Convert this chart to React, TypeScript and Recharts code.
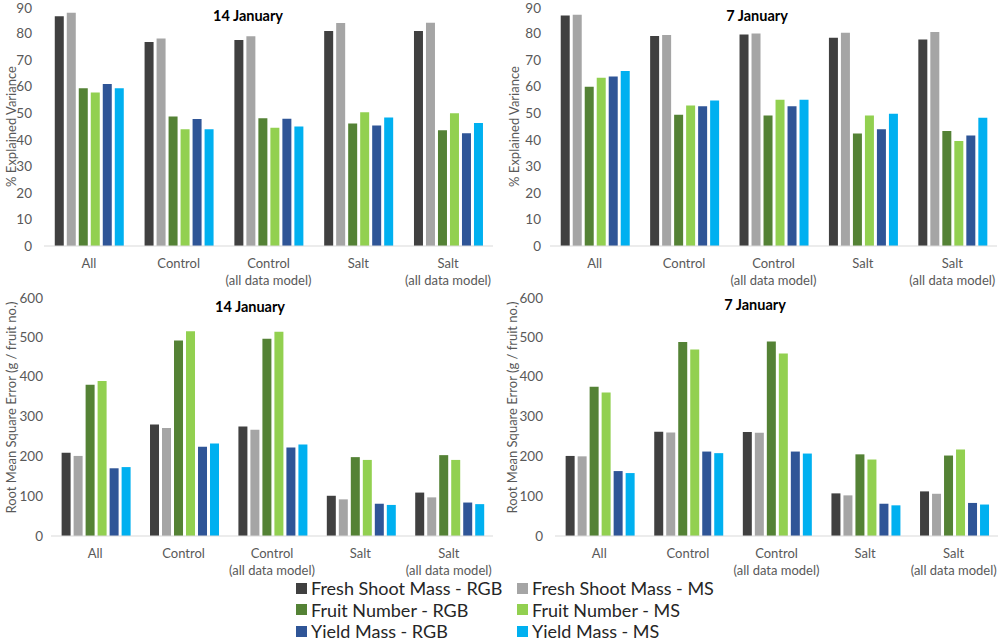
import React from "react";
import { BarChart, Bar, XAxis, YAxis } from "recharts";

const categories = ["All", "Control", "Control\n(all data model)", "Salt", "Salt\n(all data model)"];

const seriesNames = [
  "Fresh Shoot Mass - RGB",
  "Fresh Shoot Mass - MS",
  "Fruit Number - RGB",
  "Fruit Number - MS",
  "Yield Mass - RGB",
  "Yield Mass - MS",
];
const seriesColors = ["#404040", "#a5a5a5", "#548235", "#92d050", "#2f5597", "#00b0f0"];

// rows follow seriesNames, columns follow categories
const variance14Jan = [
  [86.5, 76.8, 77.6, 81.0, 81.0],
  [87.8, 78.1, 79.0, 84.0, 84.1],
  [59.4, 48.8, 48.1, 46.1, 43.6],
  [57.8, 44.0, 44.5, 50.4, 50.0],
  [61.0, 47.8, 47.9, 45.4, 42.5],
  [59.4, 44.0, 45.0, 48.4, 46.3],
];
const variance7Jan = [
  [86.8, 79.1, 79.6, 78.4, 77.8],
  [87.1, 79.5, 80.0, 80.3, 80.6],
  [60.0, 49.4, 49.1, 42.4, 43.3],
  [63.4, 52.9, 55.1, 49.1, 39.5],
  [63.8, 52.6, 52.6, 44.0, 41.6],
  [65.9, 54.8, 55.1, 49.8, 48.3],
];
const rmse14Jan = [
  [209, 280, 275, 101, 109],
  [201, 271, 267, 92, 97],
  [380, 491, 495, 198, 203],
  [389, 514, 513, 191, 191],
  [170, 224, 222, 81, 84],
  [173, 232, 230, 78, 80],
];
const rmse7Jan = [
  [201, 262, 261, 107, 112],
  [200, 260, 259, 102, 106],
  [375, 487, 488, 205, 202],
  [360, 468, 458, 192, 217],
  [163, 212, 212, 81, 83],
  [158, 208, 207, 77, 79],
];

const varianceTicks = [0, 10, 20, 30, 40, 50, 60, 70, 80, 90];
const rmseTicks = [0, 100, 200, 300, 400, 500, 600];

const FONT = "Lato, 'Open Sans', sans-serif";

function toRows(values: number[][]) {
  return categories.map((name, i) => {
    const row: Record<string, string | number> = { name };
    values.forEach((s, k) => (row["s" + k] = s[i]));
    return row;
  });
}

function CategoryTick(props: any) {
  const { x, y, payload } = props;
  const lines = String(payload.value).split("\n");
  return (
    <text x={x} y={y} textAnchor="middle" fill="#595959" fontSize={13} fontFamily={FONT}>
      {lines.map((l, i) => (
        <tspan key={i} x={x} dy={i === 0 ? 13.5 : 17}>
          {l}
        </tspan>
      ))}
    </text>
  );
}

type PanelProps = {
  left: number;
  top: number;
  title: string;
  titleX: number;
  titleY: number;
  values: number[][];
  ticks: number[];
  yLabel: string;
  yLabelX: number;
  yLabelShift: number;
  yWidth: number;
  tickMargin: number;
  marginRight: number;
};

function Panel(p: PanelProps) {
  const data = toRows(p.values);
  const max = p.ticks[p.ticks.length - 1];
  return (
    <div style={{ position: "absolute", left: p.left, top: p.top, width: 500, height: 290 }}>
      <BarChart
        width={500}
        height={290}
        data={data}
        margin={{ top: 7, right: p.marginRight, bottom: 0, left: 0 }}
        barCategoryGap="12%"
        barGap={3}
      >
        <XAxis
          dataKey="name"
          interval={0}
          height={44}
          tickLine={false}
          axisLine={{ stroke: "#d9d9d9" }}
          tick={<CategoryTick />}
        />
        <YAxis
          width={p.yWidth}
          domain={[0, max]}
          ticks={p.ticks}
          axisLine={false}
          tickLine={false}
          tickMargin={p.tickMargin}
          tick={{ fontSize: 13.5, fill: "#595959", fontFamily: FONT }}
          label={{
            content: (lp: any) => {
              const vb = lp.viewBox;
              const cy = vb.y + vb.height / 2 + p.yLabelShift;
              return (
                <text
                  x={p.yLabelX}
                  y={cy}
                  transform={`rotate(-90, ${p.yLabelX}, ${cy})`}
                  textAnchor="middle"
                  dominantBaseline="central"
                  fill="#595959"
                  fontSize={13}
                  fontFamily={FONT}
                >
                  {p.yLabel}
                </text>
              );
            },
          }}
        />
        {seriesNames.map((n, k) => (
          <Bar key={n} dataKey={"s" + k} name={n} fill={seriesColors[k]} isAnimationActive={false} />
        ))}
      </BarChart>
      <div
        style={{
          position: "absolute",
          left: p.titleX,
          top: p.titleY,
          transform: "translate(-50%, -50%)",
          fontFamily: FONT,
          fontWeight: 700,
          fontSize: 14.5,
          color: "#000",
          whiteSpace: "nowrap",
        }}
      >
        {p.title}
      </div>
    </div>
  );
}

export default function App() {
  return (
    <div style={{ position: "absolute", left: 0, top: 0, width: 1000, height: 641, background: "#fff" }}>
      <Panel
        left={0}
        top={0}
        title="14 January"
        titleX={248}
        titleY={15}
        values={variance14Jan}
        ticks={varianceTicks}
        yLabel="% Explained Variance"
        yLabelX={11}
        yLabelShift={0}
        yWidth={44}
        tickMargin={6}
        marginRight={7}
      />
      <Panel
        left={500}
        top={0}
        title="7 January"
        titleX={257}
        titleY={15}
        values={variance7Jan}
        ticks={varianceTicks}
        yLabel="% Explained Variance"
        yLabelX={14}
        yLabelShift={0}
        yWidth={50}
        tickMargin={3}
        marginRight={3}
      />
      <Panel
        left={0}
        top={290}
        title="14 January"
        titleX={250}
        titleY={16}
        values={rmse14Jan}
        ticks={rmseTicks}
        yLabel="Root Mean Square Error (g / fruit no.)"
        yLabelX={11}
        yLabelShift={-9}
        yWidth={51}
        tickMargin={2}
        marginRight={7}
      />
      <Panel
        left={500}
        top={290}
        title="7 January"
        titleX={255}
        titleY={14}
        values={rmse7Jan}
        ticks={rmseTicks}
        yLabel="Root Mean Square Error (g / fruit no.)"
        yLabelX={12}
        yLabelShift={-9}
        yWidth={55}
        tickMargin={6}
        marginRight={2}
      />
      {seriesNames.map((n, k) => (
        <div
          key={n}
          style={{
            position: "absolute",
            left: k % 2 === 0 ? 296 : 517,
            top: 588 + Math.floor(k / 2) * 21.5 - 11,
            height: 22,
            display: "flex",
            alignItems: "center",
            fontFamily: FONT,
            fontSize: 18,
            color: "#262626",
            whiteSpace: "nowrap",
          }}
        >
          <span style={{ display: "inline-block", width: 11, height: 11, background: seriesColors[k], marginRight: 4 }} />
          {n}
        </div>
      ))}
    </div>
  );
}
